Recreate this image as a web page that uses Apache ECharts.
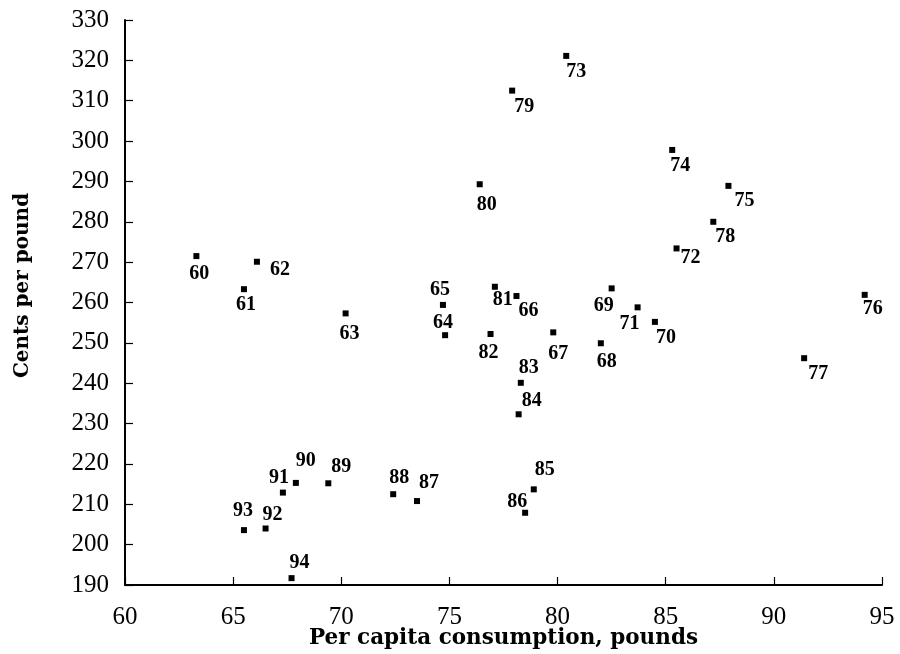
<!DOCTYPE html>
<html>
<head>
<meta charset="utf-8">
<script src="https://cdn.jsdelivr.net/npm/echarts@6/dist/echarts.min.js"></script>
<style>
  html, body { margin: 0; padding: 0; background: #fff; }
  #chart { width: 900px; height: 654px; }
</style>
</head>
<body>
<div id="chart"></div>
<script>
// Per capita consumption (pounds) vs. price (cents per pound), by year
const years = ['60','61','62','63','64','65','66','67','68','69','70','71','72','73','74','75','76','77',
               '78','79','80','81','82','83','84','85','86','87','88','89','90','91','92','93','94'];
const consumption = [63.3, 65.5, 66.1, 70.2, 74.8, 74.7, 78.1, 79.8, 82.0, 82.5, 84.5, 83.7, 85.5, 80.4, 85.3, 87.9, 94.2, 91.4,
                     87.2, 77.9, 76.4, 77.1, 76.9, 78.3, 78.2, 78.9, 78.5, 73.5, 72.4, 69.4, 67.9, 67.3, 66.5, 65.5, 67.7];
const centsPerPound = [271.5, 263.3, 270.1, 257.3, 251.9, 259.4, 261.6, 252.6, 249.9, 263.5, 255.2, 258.8, 273.4, 321.1, 297.8, 288.9, 261.9, 246.2,
                       280.0, 312.5, 289.3, 263.9, 252.2, 240.1, 232.3, 213.7, 207.9, 210.8, 212.5, 215.2, 215.3, 212.9, 204.0, 203.6, 191.7];
const xTicks = [60, 65, 70, 75, 80, 85, 90, 95];
const yTicks = [190, 200, 210, 220, 230, 240, 250, 260, 270, 280, 290, 300, 310, 320, 330];

// Where each year label sits relative to its marker (pixels)
const labelOffset = {
  '60': [3, 18],  '61': [2, 16],  '62': [23, 8],  '63': [4, 20],  '64': [-2, -12], '65': [-3, -15],
  '66': [12, 15], '67': [5, 21],  '68': [6, 19],  '69': [-8, 17], '70': [11, 16],  '71': [-8, 16],
  '72': [14, 9],  '73': [10, 16], '74': [8, 16],  '75': [16, 15], '76': [8, 14],   '77': [14, 16],
  '78': [12, 15], '79': [12, 16], '80': [7, 21],  '81': [8, 13],  '82': [-2, 19],  '83': [8, -15],
  '84': [13, -13],'85': [11, -20],'86': [-8, -11],'87': [12, -18],'88': [6, -16],  '89': [13, -16],
  '90': [10, -22],'91': [-4, -15],'92': [7, -14], '93': [-1, -19],'94': [8, -15]
};

const serif = '"Liberation Serif", "DejaVu Serif", serif';
const titleFont = '"DejaVu Serif", "Liberation Serif", serif';

const points = years.map((yr, i) => ({ value: [consumption[i], centsPerPound[i]], name: yr }));

const chart = echarts.init(document.getElementById('chart'), null, { renderer: 'canvas' });
chart.setOption({
  animation: false,
  backgroundColor: '#fff',
  grid: { left: 125, right: 18, top: 20, bottom: 69, containLabel: false, outerBoundsMode: 'none' },
  xAxis: {
    type: 'value',
    min: xTicks[0], max: xTicks[xTicks.length - 1], interval: 5,
    name: 'Per capita consumption, pounds',
    nameLocation: 'middle', nameGap: 42, nameMoveOverlap: false,
    nameTextStyle: { fontFamily: titleFont, fontWeight: 'bold', fontSize: 21.5, color: '#000' },
    axisLine: { show: true, onZero: false, lineStyle: { color: '#000', width: 2 } },
    axisTick: { show: true, inside: true, length: 8, lineStyle: { color: '#000', width: 1.2 } },
    axisLabel: { fontFamily: serif, fontSize: 25, color: '#000', margin: 20 },
    splitLine: { show: false }
  },
  yAxis: {
    type: 'value',
    min: yTicks[0], max: yTicks[yTicks.length - 1], interval: 10,
    name: 'Cents per pound',
    nameLocation: 'middle', nameGap: 92, nameMoveOverlap: false,
    nameTextStyle: { fontFamily: titleFont, fontWeight: 'bold', fontSize: 20, color: '#000', padding: [0, 0, 0, 34] },
    axisLine: { show: true, onZero: false, lineStyle: { color: '#000', width: 2 } },
    axisTick: { show: true, inside: true, length: 8, lineStyle: { color: '#000', width: 1.2 } },
    axisLabel: { fontFamily: serif, fontSize: 25, color: '#000', margin: 16 },
    splitLine: { show: false }
  },
  series: [{
    type: 'scatter',
    symbol: 'rect',
    symbolSize: 6,
    itemStyle: { color: '#000', opacity: 1 },
    data: points,
    label: {
      show: true,
      position: 'inside',
      formatter: p => p.name,
      fontFamily: serif,
      fontWeight: 'bold',
      fontSize: 20,
      color: '#000',
      opacity: 1,
      textBorderWidth: 0
    },
    labelLayout: function (params) {
      const off = labelOffset[years[params.dataIndex]] || [0, 0];
      return { dx: off[0], dy: off[1], hideOverlap: false };
    }
  }]
});
</script>
</body>
</html>
